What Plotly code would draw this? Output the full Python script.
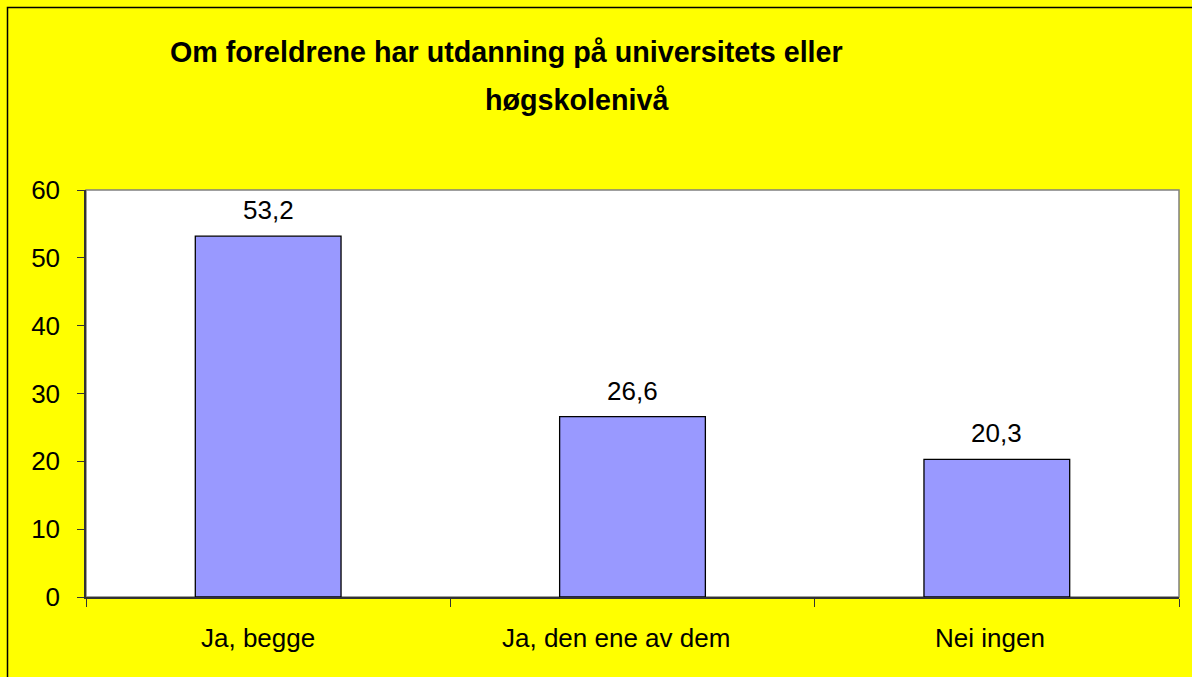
import plotly.graph_objects as go

categories = ["Ja, begge", "Ja, den ene av dem", "Nei ingen"]
values = [53.2, 26.6, 20.3]
title_lines = ["Om foreldrene har utdanning på universitets eller", "høgskolenivå"]
y_ticks = [0, 10, 20, 30, 40, 50, 60]
label_xshift = [-10, -17, -7]  # reference places category labels slightly left of centre

FONT = "Liberation Sans, Arial, sans-serif"
W, H = 1192, 677
L, R, T, B = 86, 13, 190, 80
pw, ph = W - L - R, H - T - B

def px_x(x):
    return (x - L) / pw

def px_y(y):
    return (H - B - y) / ph

fig = go.Figure()
fig.add_trace(go.Bar(
    x=categories, y=values, width=0.4,
    marker=dict(color="#9999FF", line=dict(color="black", width=1.3)),
    hoverinfo="skip",
))

for c, v in zip(categories, values):
    fig.add_annotation(x=c, y=v, text=f"{v:.1f}".replace(".", ","),
                       showarrow=False, yanchor="bottom", yshift=9,
                       font=dict(family=FONT, size=26, color="black"))

for c, dx in zip(categories, label_xshift):
    fig.add_annotation(x=c, yref="paper", y=px_y(638), text=c,
                       showarrow=False, xanchor="center", yanchor="middle",
                       xshift=dx, font=dict(family=FONT, size=26, color="black"))

fig.add_annotation(xref="paper", yref="paper", x=px_x(506), y=px_y(52),
                   text=f"<b>{title_lines[0]}</b>", showarrow=False,
                   xanchor="center", yanchor="middle",
                   font=dict(family=FONT, size=28.7, color="black"))
fig.add_annotation(xref="paper", yref="paper", x=px_x(577), y=px_y(100),
                   text=f"<b>{title_lines[1]}</b>", showarrow=False,
                   xanchor="center", yanchor="middle",
                   font=dict(family=FONT, size=28.7, color="black"))

# plot-area border (gray)
fig.add_shape(type="rect", xref="paper", yref="paper", x0=0, x1=1, y0=0, y1=1,
              line=dict(color="#808080", width=1.5), layer="below")
# outer chart border
fig.add_shape(type="rect", xref="paper", yref="paper",
              x0=px_x(7.5), x1=px_x(1192 + 5), y0=px_y(677 + 5), y1=px_y(7.5),
              line=dict(color="black", width=1.5))

fig.update_layout(
    width=W, height=H,
    margin=dict(l=L, r=R, t=T, b=B),
    paper_bgcolor="#FFFF00", plot_bgcolor="white",
    showlegend=False, bargap=0.6,
    font=dict(family=FONT, size=26, color="black"),
)
fig.update_xaxes(
    showline=True, linecolor="#333333", linewidth=1.5,
    ticks="outside", tickson="boundaries", ticklen=8, tickcolor="#333333",
    showticklabels=False, showgrid=False,
)
fig.update_yaxes(
    range=[0, 60], tickvals=y_ticks, showline=True, linecolor="#333333", linewidth=1.5,
    ticks="outside", ticklen=7, tickcolor="#333333", ticklabelstandoff=12,
    tickfont=dict(size=26, family=FONT), showgrid=False, zeroline=False,
)

fig.write_html("out.html", config={"displayModeBar": False},
               post_script="document.body.style.margin='0';")
